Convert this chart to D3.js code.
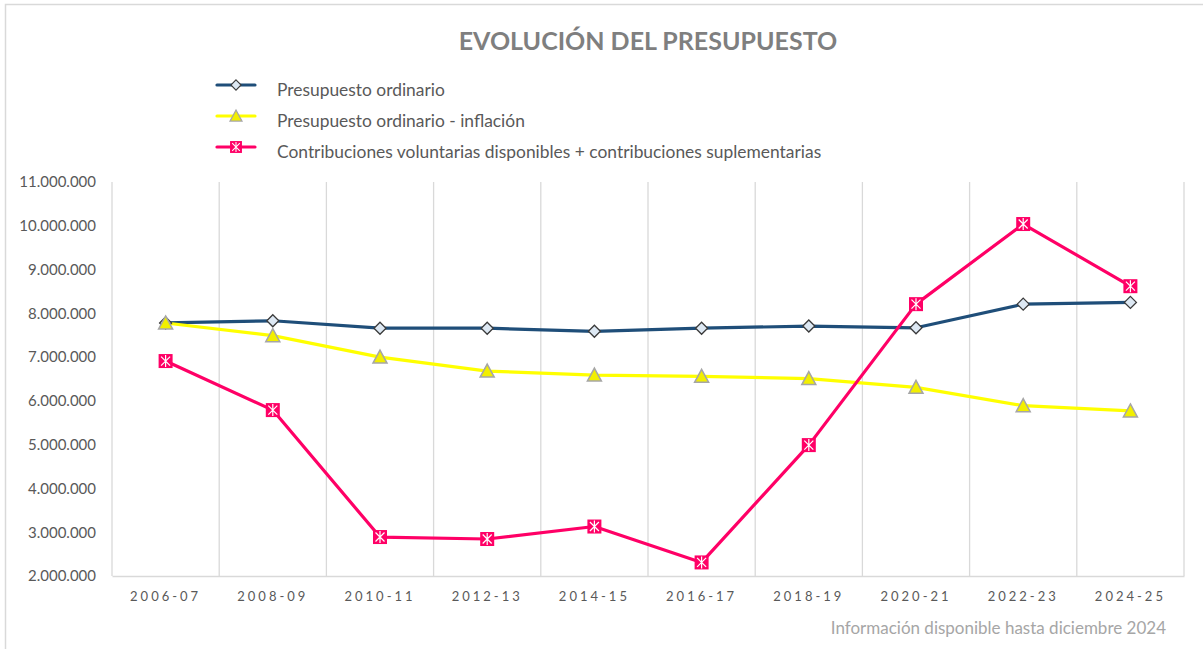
<!DOCTYPE html>
<html>
<head>
<meta charset="utf-8">
<script src="https://cdn.jsdelivr.net/npm/d3@7"></script>
<style>
  body { margin: 0; background: #fff; }
  svg { display: block; font-family: Lato, "Open Sans", sans-serif; }
</style>
</head>
<body>
<svg id="chart" width="1203" height="649"></svg>
<script>
// data
var periods = ['2006-07', '2008-09', '2010-11', '2012-13', '2014-15', '2016-17', '2018-19', '2020-21', '2022-23', '2024-25'];
var ordinario = [7780000, 7830000, 7660000, 7660000, 7590000, 7660000, 7710000, 7670000, 8210000, 8250000];
var inflacion = [7780000, 7490000, 7000000, 6680000, 6590000, 6560000, 6510000, 6310000, 5890000, 5770000];
var voluntarias = [6910000, 5790000, 2890000, 2845000, 3130000, 2310000, 4990000, 8210000, 10040000, 8620000];
var yTicks = [2000000, 3000000, 4000000, 5000000, 6000000, 7000000, 8000000, 9000000, 10000000, 11000000];
var seriesNames = ['Presupuesto ordinario', 'Presupuesto ordinario - inflación', 'Contribuciones voluntarias disponibles + contribuciones suplementarias'];

var svg = d3.select('#chart');

// outer border of the chart area
svg.append('rect')
  .attr('x', 5.5).attr('y', 4.5)
  .attr('width', 1250).attr('height', 700)
  .attr('fill', 'none')
  .attr('stroke', '#d9d9d9')
  .attr('stroke-width', 1.5);

var x = d3.scaleBand().domain(periods).range([112, 1184]).padding(0);
var y = d3.scaleLinear().domain([2000000, 11000000]).range([576, 182]);

var es = d3.formatLocale({ decimal: ',', thousands: '.', grouping: [3], currency: ['', '€'] });
var fmt = es.format(',.0f');

// vertical gridlines at category borders
var edges = periods.map(function(p) { return x(p); }).concat([x.range()[1]]);
svg.append('g').selectAll('line')
  .data(edges)
  .enter().append('line')
  .attr('x1', function(d) { return d; })
  .attr('x2', function(d) { return d; })
  .attr('y1', y(11000000))
  .attr('y2', y(2000000))
  .attr('stroke', '#d9d9d9')
  .attr('stroke-width', 1.3);

// bottom axis
var xAxis = svg.append('g')
  .attr('transform', 'translate(0,' + y(2000000) + ')')
  .call(d3.axisBottom(x).tickSize(0).tickPadding(16));
xAxis.select('.domain').attr('stroke', '#d9d9d9').attr('stroke-width', 1.5);
xAxis.selectAll('text')
  .attr('fill', '#595959')
  .attr('font-size', '13px')
  .style('letter-spacing', '3px')
  .attr('font-family', 'Lato, sans-serif');

// left axis labels
var yAxis = svg.append('g')
  .attr('transform', 'translate(96,0)')
  .call(d3.axisLeft(y).tickValues(yTicks).tickFormat(fmt).tickSize(0).tickPadding(0));
yAxis.select('.domain').remove();
yAxis.selectAll('text')
  .attr('fill', '#595959')
  .attr('font-size', '15px')
  .attr('font-family', 'Lato, sans-serif');

var line = d3.line()
  .x(function(d, i) { return x(periods[i]) + x.bandwidth() / 2; })
  .y(function(d) { return y(d); });

var series = [
  { name: seriesNames[0], values: ordinario, color: '#1f4e79', marker: 'diamond' },
  { name: seriesNames[1], values: inflacion, color: '#ffff00', marker: 'triangle' },
  { name: seriesNames[2], values: voluntarias, color: '#ff0066', marker: 'star' }
];

function drawMarker(g, type) {
  if (type == 'diamond') {
    g.append('path')
      .attr('d', 'M0,-6L6,0L0,6L-6,0Z')
      .attr('fill', '#dde8f3')
      .attr('stroke', '#3a3a3a')
      .attr('stroke-width', 1.3);
  } else if (type == 'triangle') {
    g.append('path')
      .attr('d', 'M0,-7L7,6L-7,6Z')
      .attr('fill', '#f2ef00')
      .attr('stroke', '#a6a6a6')
      .attr('stroke-width', 1.5);
  } else {
    g.append('rect')
      .attr('x', -7).attr('y', -7).attr('width', 14).attr('height', 14)
      .attr('fill', '#ff0066');
    g.append('path')
      .attr('d', 'M-4.5,-4.5L4.5,4.5M4.5,-4.5L-4.5,4.5M0,-6L0,6')
      .attr('stroke', '#fff')
      .attr('stroke-width', 1.2)
      .attr('fill', 'none');
  }
}

series.forEach(function(s) {
  svg.append('path')
    .datum(s.values)
    .attr('d', line)
    .attr('fill', 'none')
    .attr('stroke', s.color)
    .attr('stroke-width', 3.2)
    .attr('stroke-linejoin', 'round');
});

series.forEach(function(s) {
  svg.append('g').selectAll('g')
    .data(s.values)
    .enter().append('g')
    .attr('transform', function(d, i) {
      return 'translate(' + (x(periods[i]) + x.bandwidth() / 2) + ',' + y(d) + ')';
    })
    .each(function() { drawMarker(d3.select(this), s.marker); });
});

// title
svg.append('text')
  .attr('x', 648)
  .attr('y', 50)
  .attr('text-anchor', 'middle')
  .attr('fill', '#7f7f7f')
  .attr('font-size', '25px')
  .attr('font-weight', 'bold')
  .text('EVOLUCIÓN DEL PRESUPUESTO');

// legend
var legend = svg.append('g');
series.forEach(function(s, i) {
  var ly = 85 + i * 31;
  legend.append('line')
    .attr('x1', 217).attr('x2', 255)
    .attr('y1', ly).attr('y2', ly)
    .attr('stroke', s.color)
    .attr('stroke-width', 3.2)
    .attr('stroke-linecap', 'round');
  var m = legend.append('g').attr('transform', 'translate(236,' + ly + ') scale(0.85)');
  drawMarker(m, s.marker);
  legend.append('text')
    .attr('x', 277)
    .attr('y', ly + 11)
    .attr('fill', '#595959')
    .attr('font-size', '17.4px')
    .text(s.name);
});

// footer note
svg.append('text')
  .attr('x', 1166)
  .attr('y', 634)
  .attr('text-anchor', 'end')
  .attr('fill', '#a6a6a6')
  .attr('font-size', '17px')
  .text('Información disponible hasta diciembre 2024');
</script>
</body>
</html>
